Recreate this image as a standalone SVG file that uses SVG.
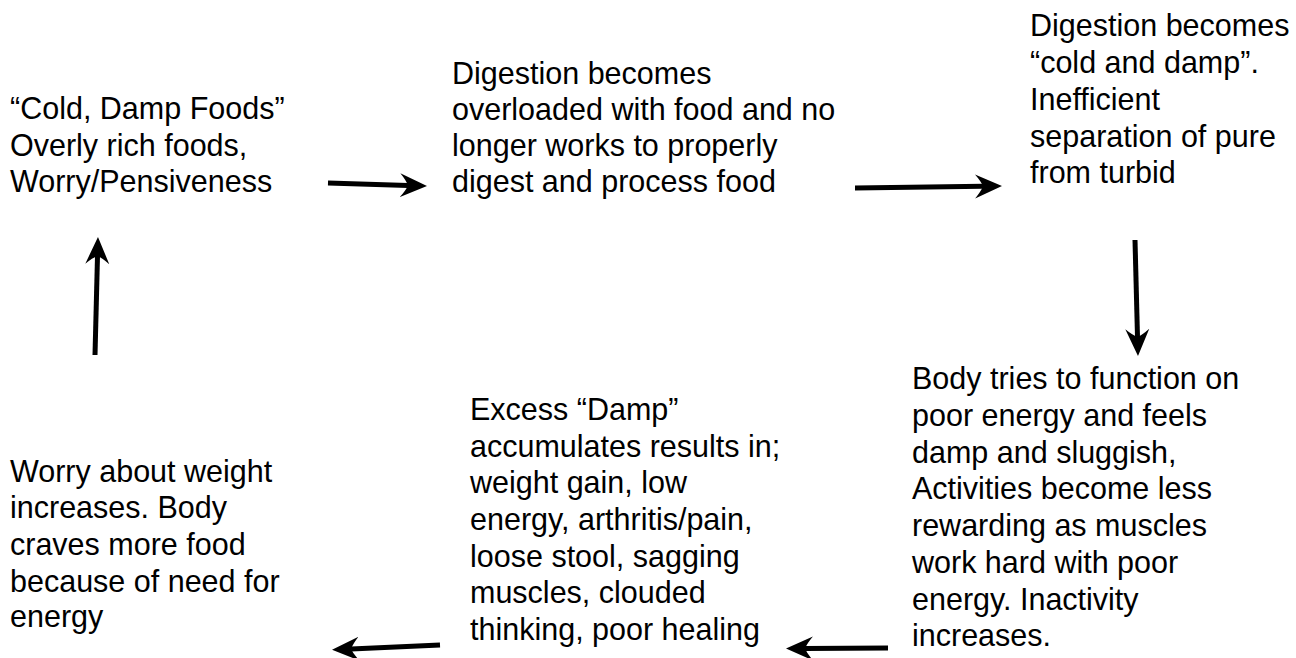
<svg xmlns="http://www.w3.org/2000/svg" width="1296" height="658" viewBox="0 0 1296 658">
<style>
  text { font-family: "Liberation Sans", Arial, Helvetica, sans-serif; font-size: 30.5px; fill: #000; }
  .conn { stroke: #000; stroke-width: 5; fill: none; marker-end: url(#ah); }
</style>
<defs>
  <marker id="ah" markerUnits="userSpaceOnUse" markerWidth="28" markerHeight="26" viewBox="0 0 28 26" refX="8" refY="13" orient="auto">
    <path d="M27,13 L0,1 Q6,8 8,13 Q6,18 0,25 Z" fill="#000"/>
  </marker>
</defs>
<rect width="1296" height="658" fill="#fff"/>
<g id="node1">
  <text x="10" y="119">“Cold, Damp Foods”</text>
  <text x="10" y="156">Overly rich foods,</text>
  <text x="10" y="192">Worry/Pensiveness</text>
</g>
<g id="node2">
  <text x="452" y="84">Digestion becomes</text>
  <text x="452" y="120">overloaded with food and no</text>
  <text x="452" y="156">longer works to properly</text>
  <text x="452" y="192">digest and process food</text>
</g>
<g id="node3">
  <text x="1030" y="36">Digestion becomes</text>
  <text x="1030" y="73">“cold and damp”.</text>
  <text x="1030" y="110">Inefficient</text>
  <text x="1030" y="147">separation of pure</text>
  <text x="1030" y="183">from turbid</text>
</g>
<g id="node4">
  <text x="912" y="389">Body tries to function on</text>
  <text x="912" y="426">poor energy and feels</text>
  <text x="912" y="463">damp and sluggish,</text>
  <text x="912" y="499">Activities become less</text>
  <text x="912" y="536">rewarding as muscles</text>
  <text x="912" y="573">work hard with poor</text>
  <text x="912" y="610">energy. Inactivity</text>
  <text x="912" y="646">increases.</text>
</g>
<g id="node5">
  <text x="470" y="420">Excess “Damp”</text>
  <text x="470" y="457">accumulates results in;</text>
  <text x="470" y="493">weight gain, low</text>
  <text x="470" y="530">energy, arthritis/pain,</text>
  <text x="470" y="567">loose stool, sagging</text>
  <text x="470" y="603">muscles, clouded</text>
  <text x="470" y="640">thinking, poor healing</text>
</g>
<g id="node6">
  <text x="10" y="482">Worry about weight</text>
  <text x="10" y="518">increases. Body</text>
  <text x="10" y="555">craves more food</text>
  <text x="10" y="592">because of need for</text>
  <text x="10" y="627">energy</text>
</g>
<g id="connectors">
  <path class="conn" d="M328,183 L408,185.5"/>
  <path class="conn" d="M855,188 L983,186.3"/>
  <path class="conn" d="M1135,240 L1137.5,337"/>
  <path class="conn" d="M888,648 L805,648.5"/>
  <path class="conn" d="M440,645 L351,649"/>
  <path class="conn" d="M95,355 L97.5,256"/>
</g>
</svg>
